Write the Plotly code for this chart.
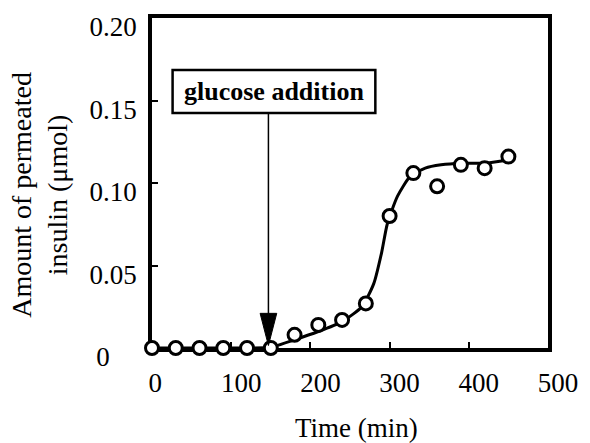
import plotly.graph_objects as go

# ---- data ----
time_min = [0, 30, 60, 90, 120, 150, 180, 210, 240, 270, 300, 330, 360, 390, 420, 450]
insulin_umol = [0, 0, 0, 0, 0, 0, 0.008, 0.014, 0.017, 0.027, 0.080, 0.106, 0.098, 0.111, 0.109, 0.116]

fit_time = [0, 30, 60, 90, 120, 150, 180, 210, 240, 265, 280, 290, 297, 310, 326, 345, 365, 390, 420, 450]
fit_umol = [0, 0, 0, 0, 0, 0.0005, 0.005, 0.010, 0.016, 0.025, 0.039, 0.058, 0.075, 0.092, 0.104, 0.109, 0.111, 0.112, 0.112, 0.114]

x_ticks = [0, 100, 200, 300, 400, 500]
x_ticktext = ["0\u00a0\u00a0", "100", "200", "300", "400", "500"]
y_ticks = [0, 0.05, 0.10, 0.15, 0.20]
y_ticktext = ["0\u00a0\u00a0\u00a0\u00a0", "0.05", "0.10", "0.15", "0.20"]

glucose_time = 147
label_text = "<b>glucose addition</b>"

FONT = "Liberation Serif, Times New Roman, serif"

fig = go.Figure()
fig.add_trace(go.Scatter(x=fit_time, y=fit_umol, mode="lines",
                         line=dict(color="black", width=3, shape="spline", smoothing=0.6),
                         cliponaxis=False, showlegend=False, hoverinfo="skip"))
fig.add_trace(go.Scatter(x=time_min, y=insulin_umol, mode="markers",
                         marker=dict(symbol="circle", size=13, color="white",
                                     line=dict(color="black", width=3)),
                         cliponaxis=False, showlegend=False))

# glucose addition box
fig.add_shape(type="rect", xref="x", yref="y", x0=26, x1=282, y0=0.1424, y1=0.1685,
              line=dict(color="black", width=2.5), fillcolor="white")
fig.add_annotation(x=154, y=0.1555, xref="x", yref="y", text=label_text, showarrow=False,
                   font=dict(family=FONT, size=26, color="black"))
# arrow shaft
fig.add_shape(type="line", xref="x", yref="y", x0=glucose_time, x1=glucose_time,
              y0=0.1424, y1=0.02, line=dict(color="black", width=1.5))
# arrow head
hw = 10.5
tip = 0.0015
top = tip + 0.0195
fig.add_shape(type="path", xref="x", yref="y",
              path=f"M {glucose_time-hw},{top} L {glucose_time+hw},{top} L {glucose_time},{tip} Z",
              fillcolor="black", line=dict(color="black", width=1))

axis_common = dict(showgrid=False, zeroline=False, showline=True, linecolor="black",
                   linewidth=3.5, mirror=True, ticks="inside", ticklen=6, tickwidth=2,
                   tickcolor="black", layer="below traces",
                   tickfont=dict(family=FONT, size=27, color="black"))

fig.update_xaxes(range=[0, 500], tickvals=x_ticks, ticktext=x_ticktext,
                 ticklabelstandoff=8, ticklabelshift=10, **axis_common)
fig.update_yaxes(range=[0, 0.20], tickvals=y_ticks, ticktext=y_ticktext,
                 ticklabelstandoff=6, ticklabelshift=9, **axis_common)

fig.add_annotation(x=0.516, y=-0.243, xref="paper", yref="paper", text="Time (min)",
                   showarrow=False, xanchor="center", yanchor="middle",
                   font=dict(family=FONT, size=27, color="black"))
fig.add_annotation(x=-0.283, y=0.464, xref="paper", yref="paper",
                   text="Amount of permeated<br>insulin (μmol)", textangle=-90,
                   showarrow=False, xanchor="center", yanchor="middle",
                   font=dict(family=FONT, size=28, color="black"))

fig.update_layout(width=590, height=443, margin=dict(l=152, r=35, t=18, b=95),
                  plot_bgcolor="white", paper_bgcolor="white", showlegend=False)

fig.write_html("out.html", config={"displayModeBar": False},
               post_script="document.body.style.margin='0';")
